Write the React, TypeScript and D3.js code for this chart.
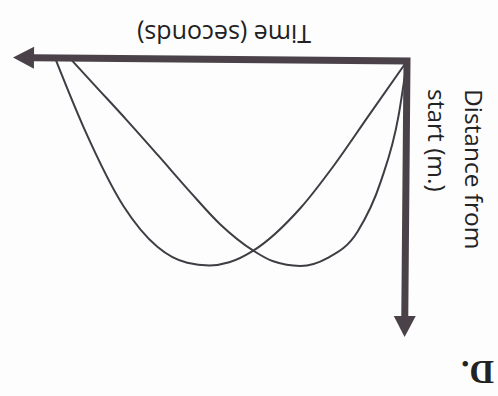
import React from "react";
import * as d3 from "d3";

const W = 498;
const H = 396;

// Curve A (peaks later)
const timeA = [0, 0.95, 1.8, 2.63, 3.8, 4.4, 4.9, 5.45, 6.2, 7.05, 8.05, 8.8];
const distA = [0, 2.0, 3.8, 5.36, 6.92, 7.35, 7.47, 7.38, 6.81, 5.36, 2.57, 0];
// Curve B (peaks earlier)
const timeB = [0, 0.2, 0.63, 1.2, 1.95, 2.63, 3.3, 3.8, 4.63, 5.4, 6.2, 7.0, 7.8, 8.43];
const distB = [0, 1.99, 4.38, 6.2, 7.17, 7.46, 7.3, 6.92, 5.98, 4.8, 3.5, 2.22, 0.98, 0];

const xTitle = "Time (seconds)";
const yTitleLines = ["Distance from", "start (m.)"];
const panelLabel = "D.";
const xAxisEnd = 9.85;
const yAxisEnd = 10;

export default function App() {
  const x = d3.scaleLinear().domain([0, 10]).range([91, 491]);
  const y = d3.scaleLinear().domain([0, 10]).range([335, 59]);
  const line = d3
    .line<[number, number]>()
    .x((d) => x(d[0]))
    .y((d) => y(d[1]))
    .curve(d3.curveMonotoneX);

  const ptsA = timeA.map((t, i) => [t, distA[i]] as [number, number]);
  const ptsB = timeB.map((t, i) => [t, distB[i]] as [number, number]);

  const axisColor = "#4a4248";
  const curveColor = "#3f3d44";
  const ox = x(0);
  const oy = y(0);
  const xt = x(xAxisEnd);
  const yt = y(yAxisEnd);
  const aL = 21;
  const aW = 11;

  return (
    <svg
      width={W}
      height={H}
      style={{ position: "absolute", left: 0, top: 0, background: "#fdfdfd" }}
    >
      <g transform={`rotate(180, ${W / 2}, ${H / 2})`}>
        <g transform={`rotate(0.5, ${ox}, ${oy})`}>
          <path d={line(ptsA) || ""} fill="none" stroke={curveColor} strokeWidth={2} />
          <path d={line(ptsB) || ""} fill="none" stroke={curveColor} strokeWidth={2} />
          <path
            d={`M${xt - aL + 1},${oy} L${ox},${oy} L${ox},${yt + aL - 1}`}
            fill="none"
            stroke={axisColor}
            strokeWidth={7}
            strokeLinejoin="miter"
            strokeLinecap="butt"
          />
          <polygon
            points={`${xt},${oy} ${xt - aL},${oy - aW} ${xt - aL},${oy + aW}`}
            fill={axisColor}
          />
          <polygon
            points={`${ox},${yt} ${ox - aW},${yt + aL} ${ox + aW},${yt + aL}`}
            fill={axisColor}
          />
        </g>
        <text
          x={274}
          y={371}
          textAnchor="middle"
          fontFamily="'Open Sans', sans-serif"
          fontSize={25}
          fill="#222"
        >
          {xTitle}
        </text>
        {yTitleLines.map((s, i) => {
          const bx = 33 + i * 37;
          const by = 307;
          return (
            <text
              key={i}
              x={bx}
              y={by}
              transform={`rotate(-90, ${bx}, ${by})`}
              fontFamily="'Open Sans', sans-serif"
              fontSize={24.5}
              fill="#222"
            >
              {s}
            </text>
          );
        })}
        <text
          x={4}
          y={35}
          fontFamily="'Liberation Serif', serif"
          fontWeight="bold"
          fontSize={34}
          fill="#222"
        >
          {panelLabel}
        </text>
      </g>
    </svg>
  );
}
